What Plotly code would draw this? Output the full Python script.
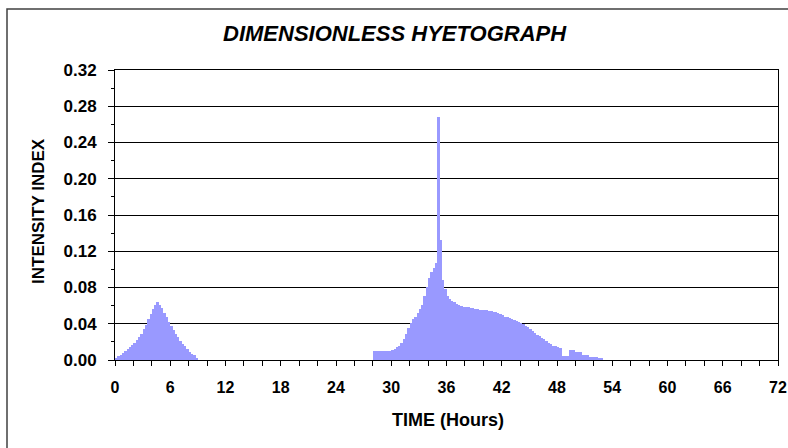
import plotly.graph_objects as go

# ---- data (15-minute intensity index values) ----
step_hours = 0.25

seg1_start = 0.0
seg1_values = [
    0.002, 0.004, 0.006, 0.008, 0.010, 0.012, 0.014, 0.017,
    0.019, 0.022, 0.025, 0.029, 0.034, 0.039, 0.045, 0.051,
    0.056, 0.061, 0.064, 0.061, 0.057, 0.052, 0.047, 0.042,
    0.037, 0.033, 0.029, 0.025, 0.021, 0.018, 0.015, 0.012,
    0.009, 0.007, 0.005, 0.002,
]

seg2_start = 28.0
seg2_values = [
    0.010, 0.010, 0.010, 0.010, 0.010, 0.010, 0.010, 0.010,   # 28-30
    0.011, 0.012, 0.014, 0.016, 0.019, 0.023, 0.029, 0.035,   # 30-32
    0.041, 0.045, 0.048, 0.052, 0.056, 0.061, 0.071, 0.081,   # 32-34
    0.091, 0.097, 0.101, 0.107, 0.268, 0.132, 0.088, 0.078,   # 34-36
    0.071, 0.067, 0.065, 0.064, 0.062, 0.061, 0.060, 0.059,   # 36-38
    0.058, 0.058, 0.057, 0.057, 0.056, 0.056, 0.055, 0.055,   # 38-40
    0.055, 0.055, 0.054, 0.054, 0.053, 0.053, 0.052, 0.051,   # 40-42
    0.050, 0.048, 0.047, 0.046, 0.045, 0.044, 0.043, 0.042,   # 42-44
    0.041, 0.040, 0.038, 0.036, 0.034, 0.032, 0.030, 0.028,   # 44-46
    0.026, 0.024, 0.023, 0.021, 0.019, 0.018, 0.016, 0.015,   # 46-48
    0.014, 0.013, 0.0045, 0.0045, 0.0045, 0.011, 0.011, 0.011,  # 48-50
    0.0085, 0.0085, 0.0085, 0.0055, 0.0055, 0.0055, 0.003, 0.003,  # 50-52
    0.003, 0.003, 0.0015, 0.0015,                              # 52-53
]

x_ticks = [0, 6, 12, 18, 24, 30, 36, 42, 48, 54, 60, 66, 72]
y_ticks = [0.00, 0.04, 0.08, 0.12, 0.16, 0.20, 0.24, 0.28, 0.32]

title_text = "DIMENSIONLESS HYETOGRAPH"
x_title = "TIME (Hours)"
y_title = "INTENSITY INDEX"

# ---- build bar positions (bar centres) ----
xs, ys = [], []
for start, vals in [(seg1_start, seg1_values), (seg2_start, seg2_values)]:
    for i, v in enumerate(vals):
        xs.append(start + step_hours * i + step_hours / 2)
        ys.append(v)

FONT = "Liberation Sans, Arial, sans-serif"
W, H = 788, 448
L, R, T, B = 115, 10, 70, 88
pw, ph = W - L - R, H - T - B


def px_x(p):
    return (p - L) / pw


def px_y(p):
    return (H - B - p) / ph


fig = go.Figure()
fig.add_trace(go.Bar(
    x=xs, y=ys, width=step_hours,
    marker=dict(color="#9999FF", line=dict(width=0)),
    hoverinfo="x+y", showlegend=False,
))

fig.update_layout(
    width=W, height=H,
    margin=dict(l=L, r=R, t=T, b=B, pad=0, autoexpand=False),
    paper_bgcolor="white", plot_bgcolor="white",
    bargap=0,
    font=dict(family=FONT, color="black"),
    xaxis=dict(
        range=[0, 72], tickvals=x_ticks, ticktext=[str(v) for v in x_ticks],
        ticks="outside", ticklen=5, tickcolor="black", tickwidth=1,
        minor=dict(dtick=2, tick0=0, ticks="outside", ticklen=5, tickcolor="black", showgrid=False),
        showgrid=False, zeroline=False, automargin=False,
        showline=True, linecolor="black", linewidth=1, mirror=True,
        tickfont=dict(family=FONT, size=16, weight="bold", color="black"),
        ticklabelstandoff=8,
    ),
    yaxis=dict(
        range=[0, 0.32], tickvals=y_ticks, ticktext=[f"{v:.2f}" for v in y_ticks],
        ticks="outside", ticklen=6, tickcolor="black", tickwidth=1,
        minor=dict(dtick=0.02, tick0=0, ticks="outside", ticklen=3, tickcolor="black", showgrid=False),
        showgrid=True, gridcolor="black", gridwidth=1, zeroline=False, automargin=False,
        showline=True, linecolor="black", linewidth=1, mirror=True,
        tickfont=dict(family=FONT, size=17, weight="bold", color="black"),
        ticklabelstandoff=8,
    ),
    shapes=[
        dict(type="rect", xref="paper", yref="paper",
             x0=px_x(7), x1=px_x(830),
             y0=px_y(480), y1=px_y(9),
             line=dict(color="#404040", width=1.5), fillcolor="rgba(0,0,0,0)", layer="below"),
    ],
    annotations=[
        dict(text=title_text, xref="paper", yref="paper",
             x=px_x(395), y=px_y(34), xanchor="center", yanchor="middle",
             showarrow=False,
             font=dict(family=FONT, size=22, weight="bold", style="italic", color="black")),
        dict(text=x_title, xref="paper", yref="paper",
             x=px_x(448), y=px_y(420), xanchor="center", yanchor="middle",
             showarrow=False,
             font=dict(family=FONT, size=18, weight="bold", color="black")),
        dict(text=y_title, xref="paper", yref="paper", textangle=-90,
             x=px_x(38), y=px_y(211), xanchor="center", yanchor="middle",
             showarrow=False,
             font=dict(family=FONT, size=17, weight="bold", color="black")),
    ],
)

fig.write_html("out.html")
